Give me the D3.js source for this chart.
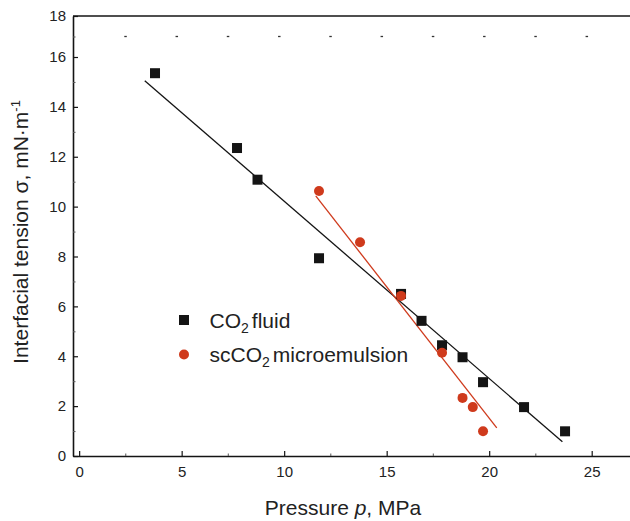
<!DOCTYPE html>
<html>
<head>
<meta charset="utf-8">
<script src="https://cdn.jsdelivr.net/npm/d3@7"></script>
<style>
  body { margin: 0; background: #fff; }
  svg { display: block; font-family: Arial, "Liberation Sans", sans-serif; }
</style>
</head>
<body>
<div id="chart"></div>
<script>
// CO2 fluid (squares)
const co2P = [3.7, 7.7, 8.7, 11.7, 15.7, 16.7, 17.7, 18.7, 19.7, 21.7, 23.7];
const co2S = [15.35, 12.35, 11.08, 7.93, 6.5, 5.42, 4.44, 3.96, 2.96, 1.96, 0.99];
// scCO2 microemulsion (circles)
const scP = [11.7, 13.7, 15.7, 17.7, 18.7, 19.2, 19.7];
const scS = [10.63, 8.57, 6.42, 4.14, 2.33, 1.96, 0.99];
// fitted lines (end points)
const co2FitP = [3.2, 23.57];
const co2FitS = [15.05, 0.57];
const scFitP = [11.54, 20.37];
const scFitS = [10.43, 1.13];

const xTicks = [0, 5, 10, 15, 20, 25];
const xMinor = [2.25, 7.25, 12.25, 17.25, 22.25];
const yTicks = [0, 2, 4, 6, 8, 10, 12, 14, 16, 18];
const yMinor = [1, 3, 5, 7, 9, 11, 13, 15, 17];
const topDashP = [2.25, 4.75, 7.25, 9.75, 12.25, 14.75, 17.25, 19.75, 22.25, 24.75];
const topDashS = 17;

const W = 630, H = 521;
const BLACK = "#141414", RED = "#cf3a1c", TXT = "#222";

const svg = d3.select("#chart").append("svg").attr("width", W).attr("height", H);

const x = d3.scaleLinear().domain([-0.3, 27]).range([73, 632.7]);
// the top of the original axis is compressed between 16 and 18
const y = d3.scaleLinear().domain([0, 16, 18]).range([456, 57, 16]);

// axes
const xAxis = svg.append("g")
    .attr("transform", `translate(0,${y(0)})`)
    .call(d3.axisBottom(x).tickValues(xTicks).tickSizeInner(-5).tickSizeOuter(0).tickPadding(10));
xAxis.select(".domain").attr("stroke", BLACK).attr("stroke-width", 1.6);
xAxis.selectAll(".tick line").attr("stroke", BLACK).attr("stroke-width", 1.2);
xAxis.selectAll("text").attr("fill", TXT).style("font-size", "15px");

const xMin = svg.append("g")
    .attr("transform", `translate(0,${y(0)})`)
    .call(d3.axisBottom(x).tickValues(xMinor).tickSizeInner(-2.5).tickSizeOuter(0).tickFormat(""));
xMin.select(".domain").remove();
xMin.selectAll(".tick line").attr("stroke", "#555").attr("stroke-width", 1);

const yAxis = svg.append("g")
    .attr("transform", `translate(${x(-0.3)},0)`)
    .call(d3.axisLeft(y).tickValues(yTicks).tickSizeInner(-5).tickSizeOuter(0).tickPadding(7));
yAxis.select(".domain").attr("stroke", BLACK).attr("stroke-width", 1.6);
yAxis.selectAll(".tick line").attr("stroke", BLACK).attr("stroke-width", 1.2);
yAxis.selectAll("text").attr("fill", TXT).style("font-size", "15px");

const yMin = svg.append("g")
    .attr("transform", `translate(${x(-0.3)},0)`)
    .call(d3.axisLeft(y).tickValues(yMinor).tickSizeInner(-2.5).tickSizeOuter(0).tickFormat(""));
yMin.select(".domain").remove();
yMin.selectAll(".tick line").attr("stroke", "#555").attr("stroke-width", 1);

// top border
svg.append("line")
    .attr("x1", x(-0.3)).attr("x2", W)
    .attr("y1", y(18)).attr("y2", y(18))
    .attr("stroke", BLACK).attr("stroke-width", 1.6);

// small dashes along the top
svg.append("g").selectAll("line").data(topDashP).join("line")
    .attr("x1", d => x(d) - 1).attr("x2", d => x(d) + 1.5)
    .attr("y1", y(topDashS)).attr("y2", y(topDashS))
    .attr("stroke", "#333").attr("stroke-width", 1.3);

// fit lines
const line = d3.line().x(d => x(d[0])).y(d => y(d[1]));
svg.append("path")
    .attr("d", line(d3.zip(co2FitP, co2FitS)))
    .attr("fill", "none").attr("stroke", BLACK).attr("stroke-width", 1.3);
svg.append("path")
    .attr("d", line(d3.zip(scFitP, scFitS)))
    .attr("fill", "none").attr("stroke", RED).attr("stroke-width", 1.3);

// points
const sq = 10;
svg.append("g").selectAll("rect").data(d3.zip(co2P, co2S)).join("rect")
    .attr("x", d => x(d[0]) - sq / 2).attr("y", d => y(d[1]) - sq / 2)
    .attr("width", sq).attr("height", sq)
    .attr("fill", BLACK);
svg.append("g").selectAll("circle").data(d3.zip(scP, scS)).join("circle")
    .attr("cx", d => x(d[0])).attr("cy", d => y(d[1])).attr("r", 5)
    .attr("fill", RED);

// legend
const leg = svg.append("g").attr("transform", "translate(184,320)");
leg.append("rect").attr("x", -sq / 2).attr("y", -sq / 2).attr("width", sq).attr("height", sq).attr("fill", BLACK);
leg.append("circle").attr("cx", 0).attr("cy", 34.5).attr("r", 5).attr("fill", RED);

const t1 = leg.append("text").attr("x", 25.5).attr("y", 7.5).attr("fill", TXT).style("font-size", "21px");
t1.append("tspan").text("CO");
t1.append("tspan").attr("dy", 5).style("font-size", "14px").text("2");
t1.append("tspan").attr("dy", -5).attr("dx", 3).text("fluid");

const t2 = leg.append("text").attr("x", 25.5).attr("y", 41.5).attr("fill", TXT).style("font-size", "21px");
t2.append("tspan").text("scCO");
t2.append("tspan").attr("dy", 5).style("font-size", "14px").text("2");
t2.append("tspan").attr("dy", -5).attr("dx", 3).text("microemulsion");

// axis titles
const xt = svg.append("text")
    .attr("x", 343).attr("y", 515)
    .attr("text-anchor", "middle").attr("fill", TXT).style("font-size", "21px");
xt.append("tspan").text("Pressure ");
xt.append("tspan").style("font-style", "italic").text("p");
xt.append("tspan").text(", MPa");

const yt = svg.append("text")
    .attr("transform", "translate(28,232) rotate(-90)")
    .attr("text-anchor", "middle").attr("fill", TXT).style("font-size", "21px");
yt.append("tspan").text("Interfacial tension σ, mN·m");
yt.append("tspan").attr("dy", -8).style("font-size", "13px").text("-1");
</script>
</body>
</html>
